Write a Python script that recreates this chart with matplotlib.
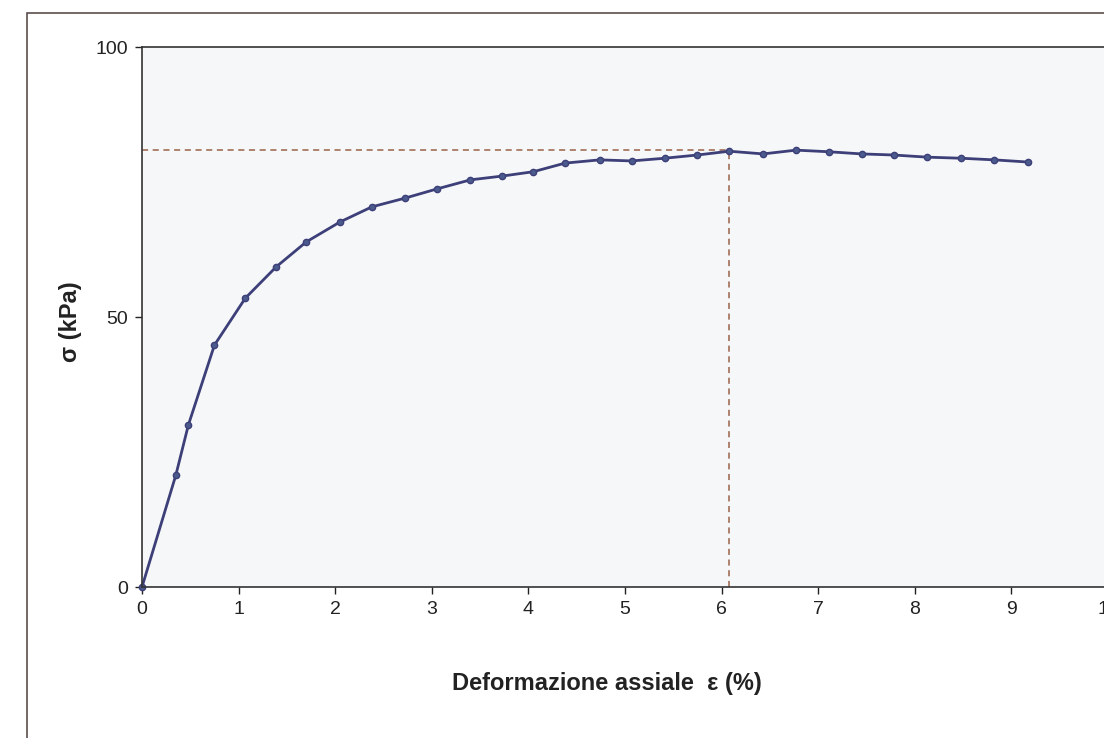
import numpy as np
import matplotlib.pyplot as plt
from matplotlib.patches import Rectangle

plt.rcParams['font.family'] = ['Liberation Sans', 'DejaVu Sans']

# deformazione assiale (%) e sforzo deviatorico (kPa)
eps = [0.0, 0.35, 0.48, 0.75, 1.07, 1.39, 1.70, 2.05, 2.38, 2.72, 3.05, 3.40,
       3.73, 4.05, 4.38, 4.74, 5.07, 5.41, 5.75, 6.08, 6.43, 6.77, 7.11, 7.45,
       7.78, 8.13, 8.48, 8.82, 9.17]
sigma = [0.0, 20.7, 30.0, 44.8, 53.5, 59.3, 63.9, 67.6, 70.4, 72.0, 73.7, 75.4,
         76.1, 76.9, 78.5, 79.1, 78.9, 79.4, 80.0, 80.7, 80.2, 80.9, 80.6, 80.2,
         80.0, 79.6, 79.4, 79.1, 78.7]
eps_peak = 6.08
sigma_peak = 81.0

fig = plt.figure(figsize=(11.04, 7.38), dpi=100)
fig.patch.set_facecolor('white')

# cornice esterna
fig.patches.append(Rectangle((27 / 1104, -0.01), 1.1, 1 - 13 / 738 + 0.01,
                             transform=fig.transFigure, fill=False,
                             edgecolor='#5a4f4c', linewidth=1.2))

ax = fig.add_axes([142 / 1104, 1 - 587 / 738, 966 / 1104, 540 / 738])
ax.set_facecolor('#f6f7f9')

ax.plot([0, eps_peak], [sigma_peak, sigma_peak], ls=(0, (4, 3)), color='#9a6248', lw=1.1)
ax.plot([eps_peak, eps_peak], [0, sigma_peak], ls=(0, (4, 3)), color='#9a6248', lw=1.1)
ax.plot(eps, sigma, color='#3d3f78', lw=2, marker='o', ms=4.5,
        markerfacecolor='#4a5a8c', markeredgecolor='#3d3f78', clip_on=False)

ax.set_xlim(0, 10)
ax.set_ylim(0, 100)
ax.set_xticks(range(0, 11))
ax.set_yticks([0, 50, 100])
ax.tick_params(direction='out', length=5, width=1, labelsize=14, colors='#222222', pad=5)
for s in ['left', 'bottom', 'top']:
    ax.spines[s].set_color('#333333')
    ax.spines[s].set_linewidth(1.2)
ax.spines['right'].set_visible(False)

ax.set_xlabel('Deformazione assiale  ε (%)', fontsize=17, fontweight='bold', color='#222222')
ax.set_ylabel('σ (kPa)', fontsize=17, fontweight='bold', color='#222222')
ax.xaxis.set_label_coords(0.481, -0.157)
ax.yaxis.set_label_coords(-0.062, 0.491)

fig.savefig('out.png', dpi=100)
